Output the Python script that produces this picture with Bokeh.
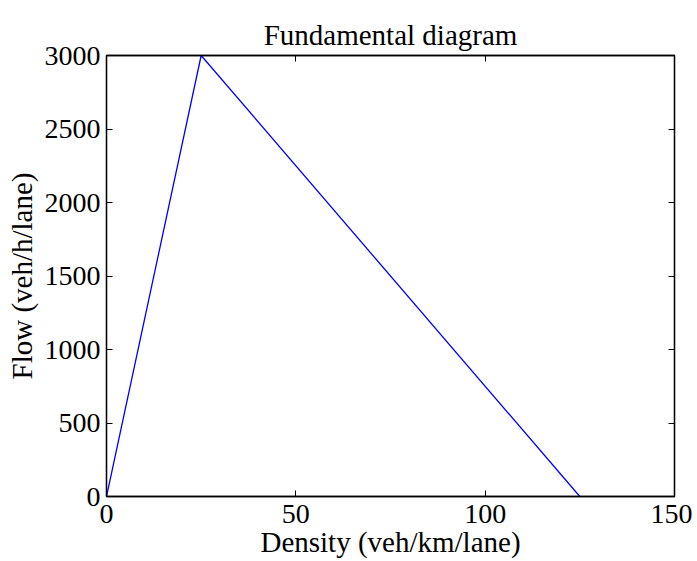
from bokeh.plotting import figure
from bokeh.models import LinearAxis, FixedTicker, Range1d
from bokeh.embed import file_html
from bokeh.resources import INLINE

density = [0, 25, 125]
flow = [0, 3000, 0]
x_ticks = [0, 50, 100, 150]
y_ticks = [0, 500, 1000, 1500, 2000, 2500, 3000]

FONT = "Liberation Serif"
TICK_FS = "28px"
LAB_FS = "29px"

p = figure(width=692, height=560, output_backend="svg", toolbar_location=None,
           x_range=Range1d(0, 150), y_range=Range1d(0, 3000),
           x_axis_location=None, y_axis_location=None,
           min_border_left=106, min_border_right=18, min_border_top=55, min_border_bottom=64)
p.title.text = "Fundamental diagram"
p.title.align = "center"
p.title.text_font = FONT
p.title.text_font_size = LAB_FS
p.title.text_font_style = "normal"
p.title.text_color = "black"
p.grid.visible = False
p.outline_line_color = "black"
p.outline_line_width = 1.3
p.background_fill_color = "white"
p.border_fill_color = "white"

def mk(ticks, labels=True, label=None):
    ax = LinearAxis(ticker=FixedTicker(ticks=ticks))
    ax.major_tick_in = 6
    ax.major_tick_out = 0
    ax.minor_tick_in = 0
    ax.minor_tick_out = 0
    ax.axis_line_color = "black"
    ax.axis_line_width = 1.3
    ax.major_tick_line_color = "black"
    ax.major_label_text_font = FONT
    ax.major_label_text_font_size = TICK_FS
    ax.major_label_text_color = "black"
    if not labels:
        ax.major_label_overrides = {t: "" for t in ticks}
        ax.major_label_text_font_size = "1px"
        ax.major_label_standoff = 0
    if label:
        ax.axis_label = label
        ax.axis_label_text_font = FONT
        ax.axis_label_text_font_size = LAB_FS
        ax.axis_label_text_font_style = "normal"
        ax.axis_label_text_color = "black"
    return ax

xb = mk(x_ticks, True, "Density (veh/km/lane)")
xb.major_label_standoff = 8
xb.axis_label_standoff = 0
yl = mk(y_ticks, True, "Flow (veh/h/lane)")
yl.major_label_standoff = 6
yl.axis_label_standoff = 4
xt = mk(x_ticks, False)
yr = mk(y_ticks, False)

p.add_layout(xb, "below")
p.add_layout(yl, "left")
p.add_layout(xt, "above")
p.add_layout(yr, "right")

p.line(density, flow, line_color="#0000ff", line_width=1.3)

open("out.html", "w").write(file_html(p, INLINE))
